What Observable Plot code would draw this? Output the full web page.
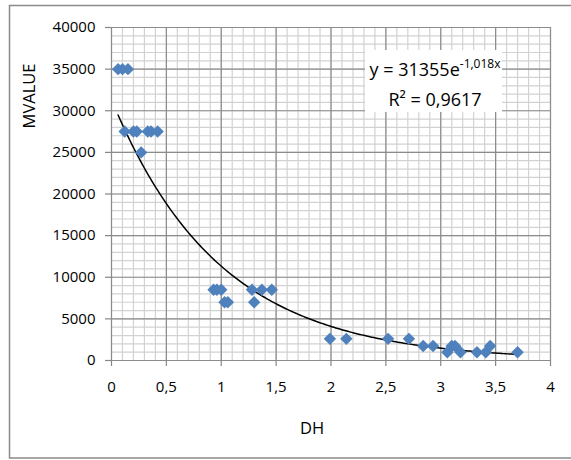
<!DOCTYPE html>
<html><head><meta charset="utf-8">
<script src="https://cdn.jsdelivr.net/npm/d3@7"></script>
<script src="https://cdn.jsdelivr.net/npm/@observablehq/plot@0.6"></script>
<style>
body{margin:0;background:#fff;}
#chart svg{font-family:"Open Sans",sans-serif;}
g[aria-label="x-axis tick"] path, g[aria-label="y-axis tick"] path{stroke:#868686;stroke-width:1.2;}
</style></head><body><div id="chart"></div>
<script>
const dh = [0.06, 0.10, 0.15, 0.12, 0.20, 0.23, 0.27, 0.33, 0.36, 0.42,
  0.93, 0.96, 1.00, 1.03, 1.06, 1.28, 1.30, 1.37, 1.46,
  1.99, 2.14, 2.52, 2.71, 2.84, 2.93, 3.06, 3.10, 3.13, 3.18, 3.33, 3.41, 3.45, 3.70];
const mvalue = [35000, 35000, 35000, 27500, 27500, 27500, 25000, 27500, 27500, 27500,
  8500, 8500, 8500, 7000, 7000, 8500, 7000, 8500, 8500,
  2600, 2600, 2600, 2600, 1750, 1750, 1000, 1750, 1750, 1000, 1000, 1000, 1750, 1000];
const xTicks = [0, 0.5, 1, 1.5, 2, 2.5, 3, 3.5, 4];
const xTickLabels = ["0", "0,5", "1", "1,5", "2", "2,5", "3", "3,5", "4"];
const yTicks = [0, 5000, 10000, 15000, 20000, 25000, 30000, 35000, 40000];
const yTickLabels = ["0", "5000", "10000", "15000", "20000", "25000", "30000", "35000", "40000"];
const fitA = 31355, fitB = -1.018, fitR2 = 0.9617;
const xLabel = "DH", yLabel = "MVALUE";

const xMinor = d3.range(0, 41).map(i => i / 10);
const yMinor = d3.range(0, 41).map(i => i * 1000);
const points = dh.map((x, i) => ({x, y: mvalue[i]}));
const [xmin, xmax] = d3.extent(dh);
const trend = d3.range(0, 201).map(i => {
  const x = xmin + (xmax - xmin) * i / 200;
  return {x, y: fitA * Math.exp(fitB * x)};
});

const chart = Plot.plot({
  width: 571, height: 460,
  marginLeft: 111, marginRight: 21, marginTop: 27, marginBottom: 100,
  style: {fontFamily: '"Open Sans", sans-serif', fontSize: "15px", color: "#000", background: "#fff"},
  x: {domain: [0, 4]},
  y: {domain: [0, 40000]},
  marks: [
    Plot.gridX(xMinor, {stroke: "#d2d2d2", strokeOpacity: 1, strokeWidth: 1.2}),
    Plot.gridY(yMinor, {stroke: "#d2d2d2", strokeOpacity: 1, strokeWidth: 1.2}),
    Plot.gridX(xTicks, {stroke: "#8c8c8c", strokeOpacity: 1, strokeWidth: 1.2}),
    Plot.gridY(yTicks, {stroke: "#8c8c8c", strokeOpacity: 1, strokeWidth: 1.2}),
    Plot.axisX(xTicks, {tickSize: 6, tickPadding: 15, label: null,
      tickFormat: d => xTickLabels[xTicks.indexOf(d)]}),
    Plot.axisY(yTicks, {tickSize: 6, tickPadding: 10, label: null,
      tickFormat: d => yTickLabels[yTicks.indexOf(d)]}),
    Plot.line(trend, {x: "x", y: "y", stroke: "#000", strokeWidth: 1.5}),
    Plot.dot(points, {x: "x", y: "y", symbol: "diamond2", r: 5.6, fill: "#4f81bd", stroke: "none"})
  ]
});

const svg = d3.select(chart);
// frame
svg.append("rect").attr("x", 9.5).attr("y", 5.5).attr("width", 600).attr("height", 452.5)
  .attr("fill", "none").attr("stroke", "#8a8a8a").attr("stroke-width", 1.5);
// axis titles
svg.append("text").attr("x", 312).attr("y", 430).attr("text-anchor", "middle")
  .attr("dominant-baseline", "middle").attr("font-size", 16.5).attr("fill", "#000").text(xLabel);
svg.append("text").attr("transform", "translate(31,96) rotate(-90)").attr("text-anchor", "middle")
  .attr("dominant-baseline", "middle").attr("font-size", 16.5).attr("fill", "#000").text(yLabel);
// equation box
const g = svg.append("g");
g.append("rect").attr("x", 365).attr("y", 50).attr("width", 137).attr("height", 62).attr("fill", "#fff");
const t1 = g.append("text").attr("x", 435).attr("y", 76).attr("text-anchor", "middle")
  .attr("font-size", 18).attr("fill", "#000");
t1.append("tspan").text(`y = ${fitA}e`);
t1.append("tspan").attr("dy", -8).attr("font-size", 12).text(`${String(fitB).replace(".", ",")}x`);
g.append("text").attr("x", 435).attr("y", 106).attr("text-anchor", "middle")
  .attr("font-size", 18).attr("fill", "#000").text(`R² = ${String(fitR2).replace(".", ",")}`);

document.getElementById("chart").appendChild(chart);
</script></body></html>
